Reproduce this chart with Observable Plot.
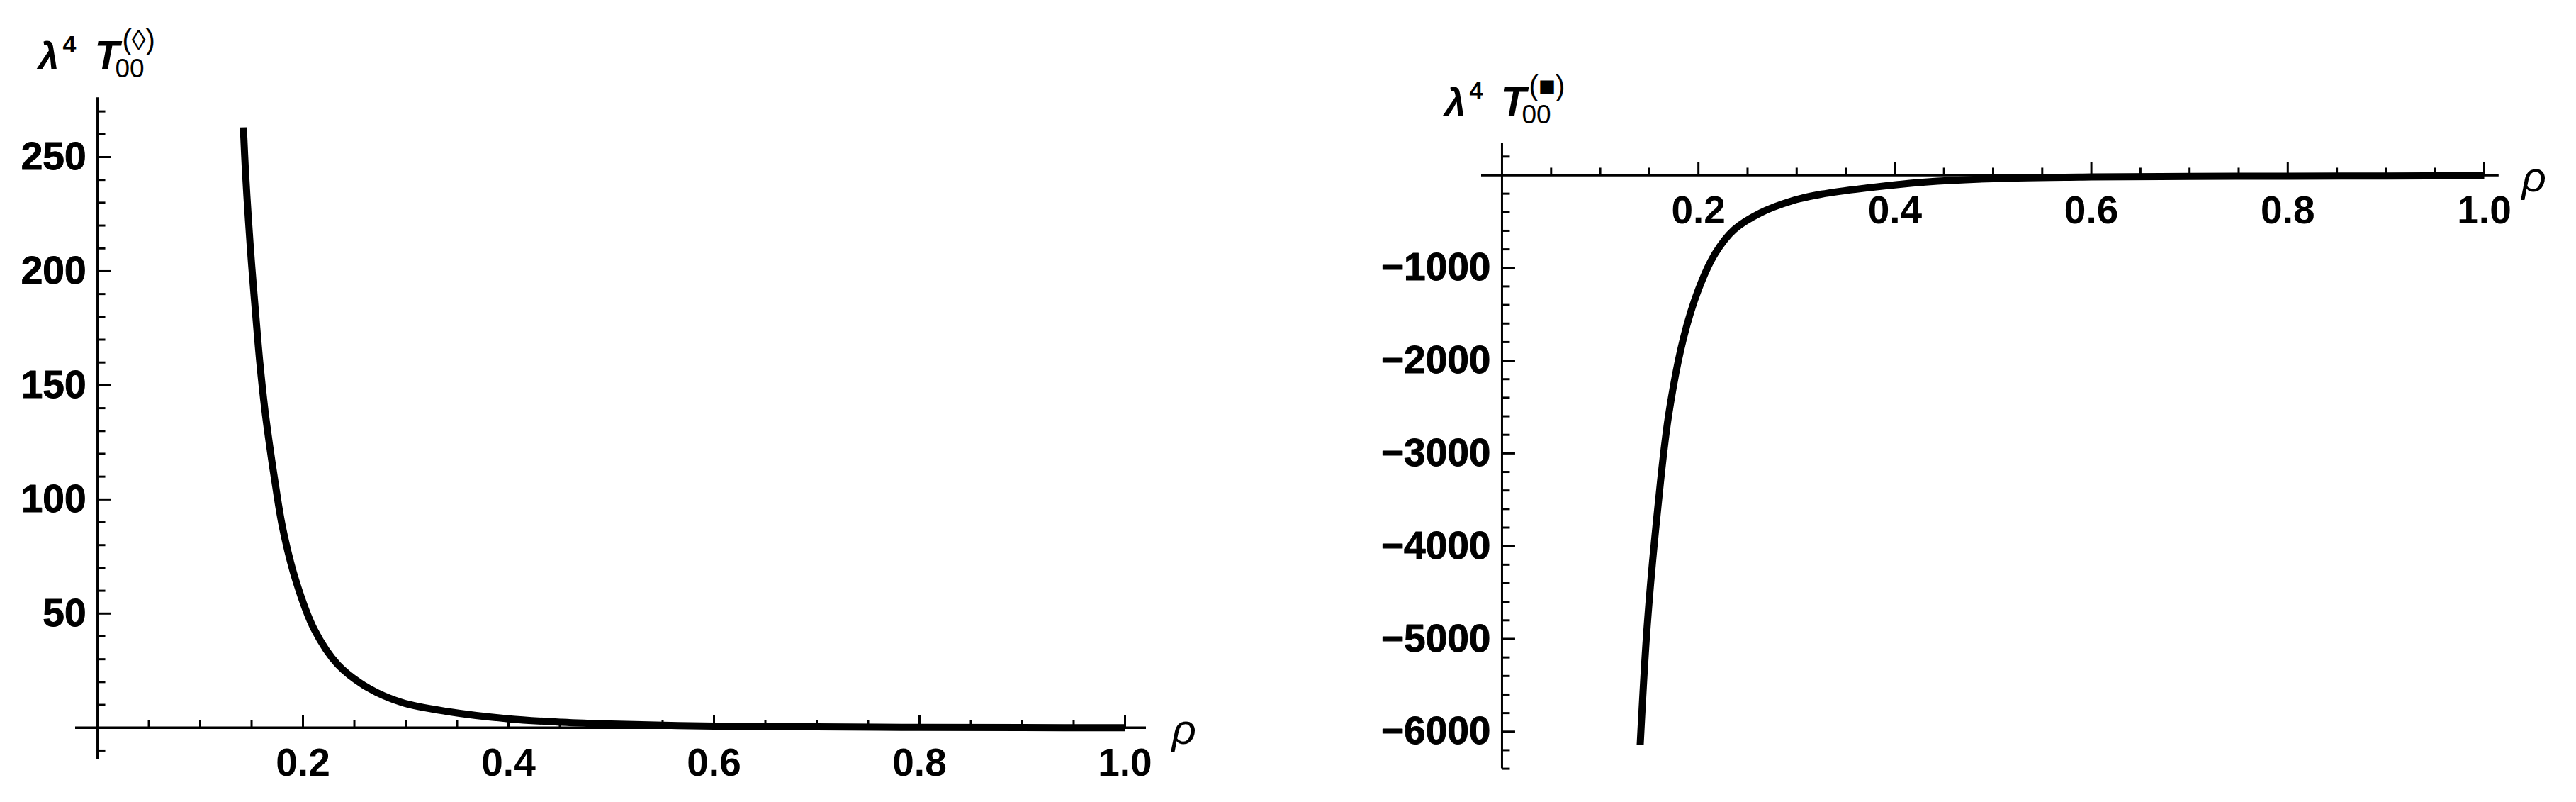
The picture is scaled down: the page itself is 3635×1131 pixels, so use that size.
<!DOCTYPE html>
<html>
<head>
<meta charset="utf-8">
<script src="https://cdn.jsdelivr.net/npm/d3@7"></script>
<script src="https://cdn.jsdelivr.net/npm/@observablehq/plot@0.6"></script>
<style>
  html, body { margin: 0; padding: 0; background: #fff; }
  #page { position: relative; width: 3635px; height: 1131px; overflow: hidden; background: #fff; }
  #left, #right { position: absolute; top: 0; }
  #left { left: 0; }
  #right { left: 1800px; }
</style>
</head>
<body>
<div id="page"><div id="left"></div><div id="right"></div></div>
<script>
// ---- data ----
// Left panel: λ^4 T00^(◊) versus ρ
const rhoDiamond = [0.142, 0.144, 0.147, 0.150, 0.154, 0.158, 0.163, 0.169, 0.173, 0.180, 0.193, 0.211, 0.234, 0.264, 0.296, 0.342, 0.400, 0.452, 0.500, 0.600, 0.700, 0.800, 0.900, 1.000];
const t00Diamond = [263, 244, 222, 203, 181, 160, 139, 119, 107, 88, 64.5, 43, 27.6, 17.3, 11.1, 7.0, 3.9, 2.4, 1.6, 0.7, 0.35, 0.15, 0.05, 0];

// Right panel: λ^4 T00^(■) versus ρ
const rhoSquare = [0.1407, 0.1479, 0.1587, 0.1696, 0.1847, 0.2003, 0.2172, 0.2364, 0.2628, 0.2941, 0.3254, 0.371, 0.431, 0.500, 0.600, 0.700, 0.800, 0.900, 1.000];
const t00Square = [-6143, -4850, -3580, -2590, -1760, -1225, -842, -587, -409, -281, -205, -139, -75, -38, -20, -14, -11, -9, -8];

// ticks
const xMajorTicks = [0.2, 0.4, 0.6, 0.8, 1.0];
const xTickLabels = ["0.2", "0.4", "0.6", "0.8", "1.0"];
const xMinorTicks = [0.05, 0.1, 0.15, 0.25, 0.3, 0.35, 0.45, 0.5, 0.55, 0.65, 0.7, 0.75, 0.85, 0.9, 0.95];

const yMajorLeft = [50, 100, 150, 200, 250];
const yLabelsLeft = ["50", "100", "150", "200", "250"];
const yMinorLeft = [-10, 10, 20, 30, 40, 60, 70, 80, 90, 110, 120, 130, 140, 160, 170, 180, 190, 210, 220, 230, 240, 260, 270];

const yMajorRight = [-1000, -2000, -3000, -4000, -5000, -6000];
const yLabelsRight = ["\u22121000", "\u22122000", "\u22123000", "\u22124000", "\u22125000", "\u22126000"];
const yMinorRight = [200, -200, -400, -600, -800, -1200, -1400, -1600, -1800, -2200, -2400, -2600, -2800,
  -3200, -3400, -3600, -3800, -4200, -4400, -4600, -4800, -5200, -5400, -5600, -5800, -6200, -6400];

// ---- drawing ----
const FONT = "'Liberation Sans', Arial, Helvetica, sans-serif";
const tickUp = {draw(ctx, size) { const r = Math.sqrt(size / Math.PI); ctx.moveTo(0, 0); ctx.lineTo(0, -r); }};
const tickRight = {draw(ctx, size) { const r = Math.sqrt(size / Math.PI); ctx.moveTo(0, 0); ctx.lineTo(r, 0); }};

function panel({width, mL, mR, mT, mB, xDomain, yDomain, rho, val, yMajor, yLabels, yMinor, title, rhoPos}) {
  const put = (txt, x, y, o) => Plot.text([txt], {
    frameAnchor: "top-left", dx: x - mL, dy: y - mT, text: d => d,
    lineAnchor: "bottom", textAnchor: "start", fill: "black", ...o
  });
  const series = rho.map((r, i) => ({rho: r, v: val[i]}));
  return Plot.plot({
    width, height: 1131,
    marginLeft: mL, marginRight: mR, marginTop: mT, marginBottom: mB,
    x: {domain: xDomain, axis: null},
    y: {domain: yDomain, axis: null},
    style: {fontFamily: FONT, background: "transparent", overflow: "visible"},
    marks: [
      Plot.ruleY([0], {stroke: "black", strokeWidth: 3.5}),
      Plot.ruleX([0], {stroke: "black", strokeWidth: 3}),
      Plot.dot(xMinorTicks, {x: d => d, y: 0, symbol: tickUp, r: 10.5, stroke: "black", fill: "none", strokeWidth: 3}),
      Plot.dot(xMajorTicks, {x: d => d, y: 0, symbol: tickUp, r: 18, stroke: "black", fill: "none", strokeWidth: 3}),
      Plot.dot(yMinor, {x: 0, y: d => d, symbol: tickRight, r: 11, stroke: "black", fill: "none", strokeWidth: 3}),
      Plot.dot(yMajor, {x: 0, y: d => d, symbol: tickRight, r: 18.5, stroke: "black", fill: "none", strokeWidth: 3}),
      Plot.text(xMajorTicks, {x: d => d, y: 0, text: (d, i) => xTickLabels[i], lineAnchor: "top", dy: 29,
        fontSize: 55, fontWeight: "bold", fill: "black"}),
      Plot.text(yMajor, {x: 0, y: d => d, text: (d, i) => yLabels[i], textAnchor: "end", dx: -16,
        fontSize: 55, fontWeight: "bold", fill: "black", stroke: "black", strokeWidth: 1}),
      Plot.line(series, {x: "rho", y: "v", stroke: "black", strokeWidth: 10, curve: "catmull-rom",
        strokeLinecap: "butt", strokeLinejoin: "round"}),
      put("\u03C1", rhoPos[0], rhoPos[1], {fontSize: 60, fontStyle: "italic"}),
      // title λ^4 T_00^(sym)
      put("\u03BB", title[0], title[1], {fontSize: 54, fontWeight: "bold", fontStyle: "italic"}),
      put("4", title[0] + 35, title[1] - 24, {fontSize: 34, fontWeight: "bold"}),
      put("T", title[0] + 80, title[1], {fontSize: 57, fontWeight: "bold", fontStyle: "italic"}),
      put("00", title[0] + 109, title[1] + 11, {fontSize: 37}),
      put(title[2], title[0] + 119, title[1] - 28, {fontSize: 40})
    ]
  });
}

document.getElementById("left").appendChild(panel({
  width: 1800, mL: 106, mR: 183, mT: 137.3, mB: 60.2,
  xDomain: [-0.0214, 1.0207], yDomain: [-14, 276],
  rho: rhoDiamond, val: t00Diamond,
  yMajor: yMajorLeft, yLabels: yLabelsLeft, yMinor: yMinorLeft,
  title: [53, 97, "(\u25CA)"], rhoPos: [1653, 1048]
}));

document.getElementById("right").appendChild(panel({
  width: 1835, mL: 290, mR: 109.2, mT: 202, mB: 47.4,
  xDomain: [-0.0209, 1.015], yDomain: [-6400, 340],
  rho: rhoSquare, val: t00Square,
  yMajor: yMajorRight, yLabels: yLabelsRight, yMinor: yMinorRight,
  title: [238, 162, "(\u25A0)"], rhoPos: [1758, 269]
}));
</script>
</body>
</html>
